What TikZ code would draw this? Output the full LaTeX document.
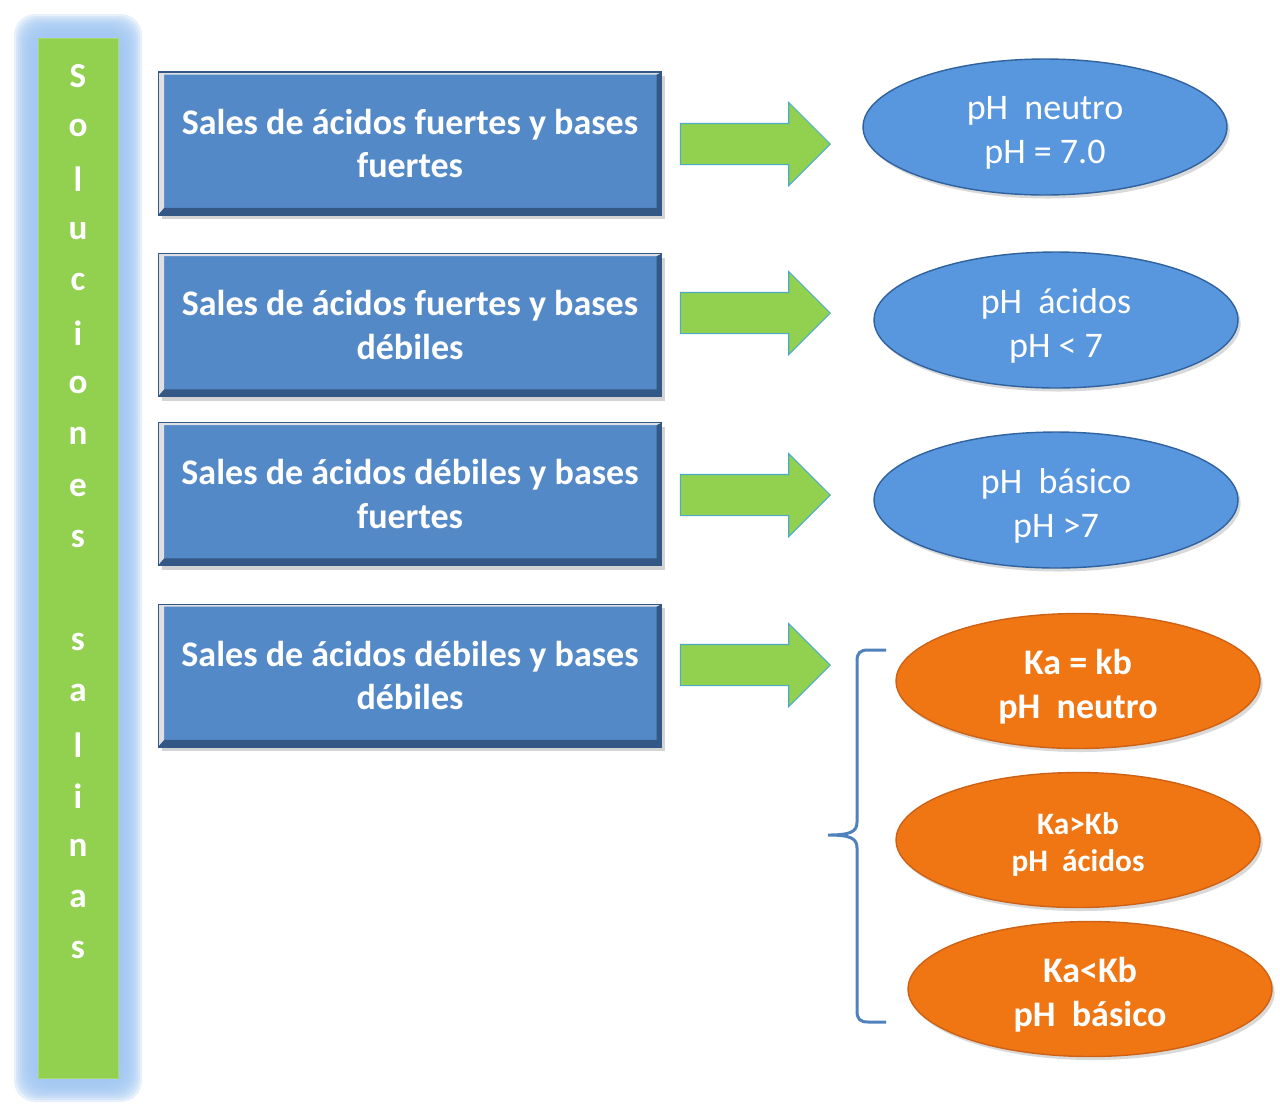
\documentclass[tikz,border=0pt]{standalone}
\usepackage{fontspec}
\setmainfont{Carlito}
\usetikzlibrary{shapes.geometric,shapes.arrows,shadows}
\definecolor{barGreen}{RGB}{146,208,80}
\definecolor{glowBlue}{RGB}{160,198,242}
\definecolor{boxBlue}{RGB}{84,137,200}
\definecolor{boxDark}{RGB}{52,88,134}
\definecolor{boxLight}{RGB}{222,224,228}
\definecolor{arrowEdge}{RGB}{75,172,198}
\definecolor{ellBlue}{RGB}{88,150,222}
\definecolor{ellBlueDark}{RGB}{48,98,158}
\definecolor{ellOrange}{RGB}{240,118,20}
\definecolor{ellOrangeDark}{RGB}{205,98,22}
\definecolor{braceBlue}{RGB}{79,129,189}

\begin{document}
\begin{tikzpicture}[x=0.02cm,y=-0.02cm,
    barletter/.style={text=white,font=\bfseries\fontsize{20}{24}\selectfont},
    salbox/.style={rectangle,fill=boxBlue,draw=boxDark,line width=0.6pt,
        minimum width=10.08cm,minimum height=2.86cm,inner sep=0pt,
        text=white,align=center,font=\bfseries\fontsize{20.5}{25}\selectfont,
        drop shadow={shadow xshift=2pt,shadow yshift=-2.5pt,opacity=0.35},
        path picture={
            \fill[boxLight] (path picture bounding box.south west) -- (path picture bounding box.north west)
                -- (path picture bounding box.north east) -- ++(-3pt,-1.5pt)
                -| ([xshift=3.5pt,yshift=4pt]path picture bounding box.south west) -- cycle;
            \fill[boxDark] (path picture bounding box.south west) -- (path picture bounding box.south east)
                -- (path picture bounding box.north east) -- ++(-3pt,-1.5pt)
                |- ([xshift=3.5pt,yshift=4pt]path picture bounding box.south west) -- cycle;
        }},
    blockarrow/.style={single arrow,fill=barGreen,draw=arrowEdge,line width=0.6pt,
        minimum height=3cm,inner xsep=0pt,inner ysep=0.4cm,single arrow head extend=0.42cm,
        single arrow tip angle=90},
    phell/.style={ellipse,fill=ellBlue,draw=ellBlueDark,line width=0.8pt,
        minimum width=7.28cm,minimum height=2.72cm,inner sep=0pt,
        drop shadow={shadow xshift=1.5pt,shadow yshift=-2pt,opacity=0.3}},
    phtext/.style={text=white,align=center,font=\fontsize{20.5}{25}\selectfont},
    kaell/.style={ellipse,fill=ellOrange,draw=ellOrangeDark,line width=0.8pt,
        minimum width=7.28cm,minimum height=2.70cm,inner sep=0pt,
        drop shadow={shadow xshift=1.5pt,shadow yshift=-2pt,opacity=0.3}},
    katext/.style={text=white,align=center,font=\bfseries\fontsize{20.5}{25}\selectfont},
    brace/.style={draw=braceBlue,line width=1.7pt}]
    \useasboundingbox (0,0) rectangle (1280,1117);

    % title bar
    \foreach \g in {4,6,...,24}
        \fill[glowBlue,opacity=0.25,rounded corners=12pt] (38-\g,38-\g) rectangle (118+\g,1078+\g);
    \node[rectangle,fill=barGreen,draw=barGreen!80!white,minimum width=1.6cm,minimum height=20.8cm,inner sep=0pt] (bar) at (78,558) {};
    \foreach \ch [count=\i from 0] in {S,o,l,u,c,i,o,n,e,s,{},s,a,l,i,n,a,s}
        \node[barletter] (letter\i) at (78,{76.5+51.4*\i}) {\ch};

    % salts
    \node[salbox] (fuerfuer) at (410,143.5) {Sales de ácidos fuertes y bases\\fuertes};
    \node[salbox] (fuerdeb) at (410,325) {Sales de ácidos fuertes y bases\\débiles};
    \node[salbox] (debfuer) at (410,494) {Sales de ácidos débiles y bases\\fuertes};
    \node[salbox] (debdeb) at (410,675.5) {Sales de ácidos débiles y bases\\débiles};

    % arrows
    \node[blockarrow] (arrow1) at (745,144) {};
    \node[blockarrow] (arrow2) at (745,313) {};
    \node[blockarrow] (arrow3) at (745,495) {};
    \node[blockarrow] (arrow4) at (745,665) {};

    % pH
    \node[phell] (neutro) at (1045,127) {};
    \node[phell] (acido) at (1056,320) {};
    \node[phell] (basico) at (1056,500) {};
    \node[phtext] (neutrotext) at ([yshift=-3.5pt]neutro.center) {pH~~neutro\\pH = 7.0};
    \node[phtext] (acidotext) at ([yshift=-3.5pt]acido.center) {pH~~ácidos\\pH < 7};
    \node[phtext] (basicotext) at ([yshift=-3.5pt]basico.center) {pH~~básico\\pH >7};

    % Ka and Kb
    \node[kaell] (kaeq) at (1078,681) {};
    \node[kaell] (kagt) at (1078,840) {};
    \node[kaell] (kalt) at (1090,989) {};
    \node[katext] (kaeqtext) at ([yshift=-3pt]kaeq.center) {Ka = kb\\pH~~neutro};
    \node[katext,font=\bfseries\fontsize{17.8}{21.5}\selectfont] (kagttext) at ([yshift=-2.5pt]kagt.center) {Ka>Kb\\pH~~ácidos};
    \node[katext] (kalttext) at ([yshift=-3pt]kalt.center) {Ka<Kb\\pH~~básico};

    % brace
    \coordinate (bracetop) at (886,650);
    \coordinate (bracetip) at (828,835);
    \coordinate (bracebot) at (886,1022);
    \draw[brace] (bracetop) -- (868,650) .. controls (860,650) and (857,653) .. (857,661) -- (857,822)
        .. controls (857,832) and (850,835) .. (bracetip)
        .. controls (850,835) and (857,838) .. (857,848) -- (857,1011)
        .. controls (857,1019) and (860,1022) .. (868,1022) -- (bracebot);
\end{tikzpicture}
\end{document}
